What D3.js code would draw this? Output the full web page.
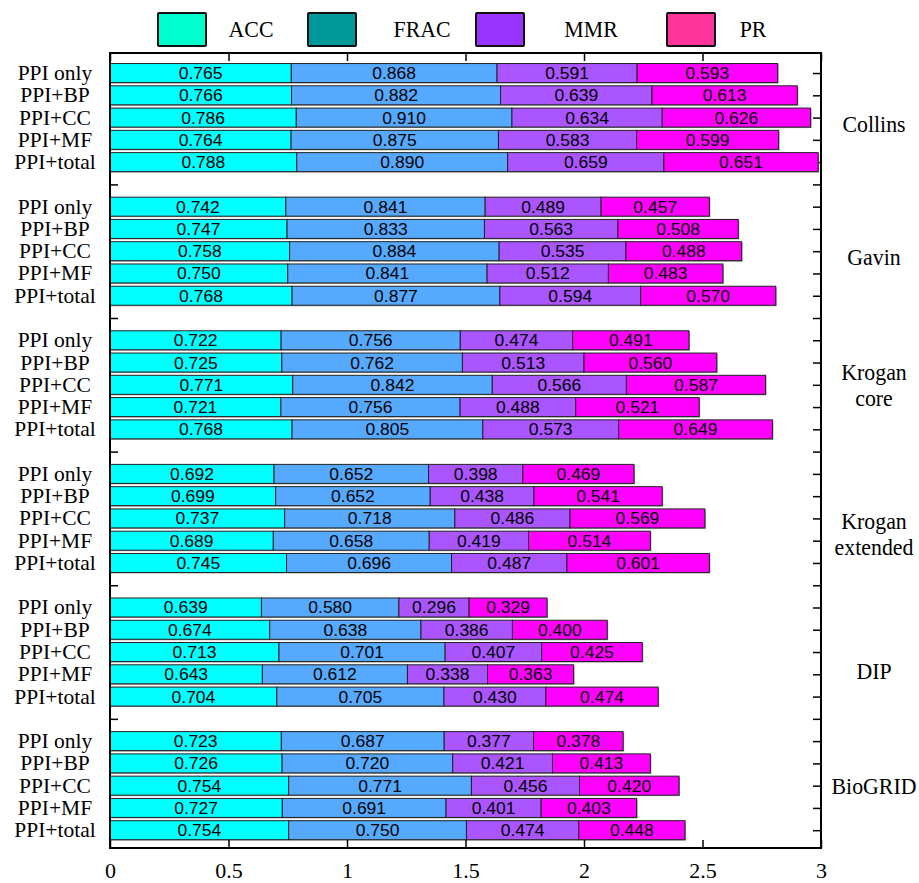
<!DOCTYPE html>
<html><head><meta charset="utf-8">
<script src="https://cdn.jsdelivr.net/npm/d3@7"></script>
<style>body{margin:0;background:#fff}</style>
</head><body><svg id="c" width="919" height="883"></svg>
<script>
const datasetLines = [["Collins"],["Gavin"],["Krogan","core"],["Krogan","extended"],["DIP"],["BioGRID"]];
const variants = ["PPI only","PPI+BP","PPI+CC","PPI+MF","PPI+total"];
const metrics = ["ACC","FRAC","MMR","PR"];
const ACC  = [0.765,0.766,0.786,0.764,0.788, 0.742,0.747,0.758,0.750,0.768, 0.722,0.725,0.771,0.721,0.768, 0.692,0.699,0.737,0.689,0.745, 0.639,0.674,0.713,0.643,0.704, 0.723,0.726,0.754,0.727,0.754];
const FRAC = [0.868,0.882,0.910,0.875,0.890, 0.841,0.833,0.884,0.841,0.877, 0.756,0.762,0.842,0.756,0.805, 0.652,0.652,0.718,0.658,0.696, 0.580,0.638,0.701,0.612,0.705, 0.687,0.720,0.771,0.691,0.750];
const MMR  = [0.591,0.639,0.634,0.583,0.659, 0.489,0.563,0.535,0.512,0.594, 0.474,0.513,0.566,0.488,0.573, 0.398,0.438,0.486,0.419,0.487, 0.296,0.386,0.407,0.338,0.430, 0.377,0.421,0.456,0.401,0.474];
const PR   = [0.593,0.613,0.626,0.599,0.651, 0.457,0.508,0.488,0.483,0.570, 0.491,0.560,0.587,0.521,0.649, 0.469,0.541,0.569,0.514,0.601, 0.329,0.400,0.425,0.363,0.474, 0.378,0.413,0.420,0.403,0.448];
const xTicks = [0,0.5,1,1.5,2,2.5,3];

// styling (not data)
const barColors = ["#00FFFF","#55AAFF","#AA55FF","#FF00FF"];
const legendColors = ["#00FFCC","#009999","#9933FF","#FF3399"];
const labelShift = [0.3,0.27,0,0.7,0.85,0];

const svg = d3.select("#c");
const L=110,R=821,T=53,B=848;
const x = d3.scaleLinear().domain([0,3]).range([L,R]);
const y = d3.scaleLinear().domain([-0.9,34.8]).range([T,B]);
const serif = "'Liberation Serif','Times New Roman',serif";
const sans = "'Liberation Sans',Arial,sans-serif";
const series = [ACC,FRAC,MMR,PR];
const barH = 19;

// ticks on the left/right axes at every slot
const slots = d3.range(0,35);
const leftAx = d3.axisLeft(y).tickValues(slots).tickSize(-8).tickFormat("");
const rightAx = d3.axisRight(y).tickValues(slots).tickSize(-8).tickFormat("");
svg.append("g").attr("transform",`translate(${L},0)`).call(leftAx)
  .call(g=>{g.select(".domain").remove();g.selectAll("line").attr("stroke","#000").attr("stroke-width",1.5);});
svg.append("g").attr("transform",`translate(${R},0)`).call(rightAx)
  .call(g=>{g.select(".domain").remove();g.selectAll("line").attr("stroke","#000").attr("stroke-width",1.5);});

// bars
const rows = [];
datasetLines.forEach((d,g)=>{
  variants.forEach((v,r)=>{
    const i=g*5+r;
    const slot=g*6+r;
    let acc0=0;
    series.forEach((s,m)=>{
      rows.push({slot,m,x0:acc0,x1:acc0+s[i],v:s[i]});
      acc0+=s[i];
    });
  });
});
const bars = svg.append("g");
bars.selectAll("rect.sh").data(rows).join("rect").attr("class","sh")
  .attr("x",d=>x(d.x0)+1).attr("y",d=>y(d.slot)-barH/2+1)
  .attr("width",d=>x(d.x1)-x(d.x0)).attr("height",barH)
  .attr("fill","#999");
bars.selectAll("rect.b").data(rows).join("rect").attr("class","b")
  .attr("x",d=>x(d.x0)).attr("y",d=>y(d.slot)-barH/2)
  .attr("width",d=>x(d.x1)-x(d.x0)).attr("height",barH)
  .attr("fill",d=>barColors[d.m]).attr("stroke","#222").attr("stroke-width",1);
bars.selectAll("text").data(rows).join("text")
  .attr("transform",d=>`translate(${(x(d.x0)+x(d.x1))/2},${y(d.slot)+6}) scale(1.03,1)`)
  .attr("text-anchor","middle").attr("font-family",sans).attr("font-size",17).attr("fill","#000")
  .text(d=>d.v.toFixed(3));

// frame
svg.append("rect").attr("x",L).attr("y",T).attr("width",R-L).attr("height",B-T)
  .attr("fill","none").attr("stroke","#000").attr("stroke-width",2);

// x axes
const bottomAx = d3.axisBottom(x).tickValues(xTicks).tickSize(-8).tickFormat(d=>d3.format("")(d));
svg.append("g").attr("transform",`translate(0,${B})`).call(bottomAx)
  .call(g=>{g.select(".domain").remove();
    g.selectAll("line").attr("stroke","#000").attr("stroke-width",1.5);
    g.selectAll("text").attr("font-family",serif).attr("font-size",22).attr("fill","#000").attr("dy",0).attr("y",30);});
const topAx = d3.axisTop(x).tickValues(xTicks).tickSize(-8).tickFormat("");
svg.append("g").attr("transform",`translate(0,${T})`).call(topAx)
  .call(g=>{g.select(".domain").remove();g.selectAll("line").attr("stroke","#000").attr("stroke-width",1.5);});

// left row labels
const lab = svg.append("g");
datasetLines.forEach((d,g)=>{
  variants.forEach((v,r)=>{
    lab.append("text").attr("x",55).attr("y",y(g*6+r)+7)
      .attr("text-anchor","middle").attr("font-family",serif).attr("font-size",21.5).text(v);
  });
  const yc = y(g*6+2+labelShift[g]);
  const n=d.length, lh=25.5;
  d.forEach((t,j)=>{
    lab.append("text").attr("transform",`translate(874,${yc+(j-(n-1)/2)*lh+8}) scale(0.95,1)`)
      .attr("text-anchor","middle").attr("font-family",serif).attr("font-size",23).text(t);
  });
});

// legend
const legX = [158,308,476,667];
const legTX = [251,422,591,753];
const lg = svg.append("g");
metrics.forEach((m,i)=>{
  lg.append("rect").attr("x",legX[i]).attr("y",13).attr("width",48).attr("height",33).attr("rx",1)
    .attr("fill",legendColors[i]).attr("stroke","#111").attr("stroke-width",2);
  lg.append("text").attr("transform",`translate(${legTX[i]},37) scale(0.95,1)`).attr("text-anchor","middle")
    .attr("font-family",serif).attr("font-size",23).text(m);
});
</script></body></html>
